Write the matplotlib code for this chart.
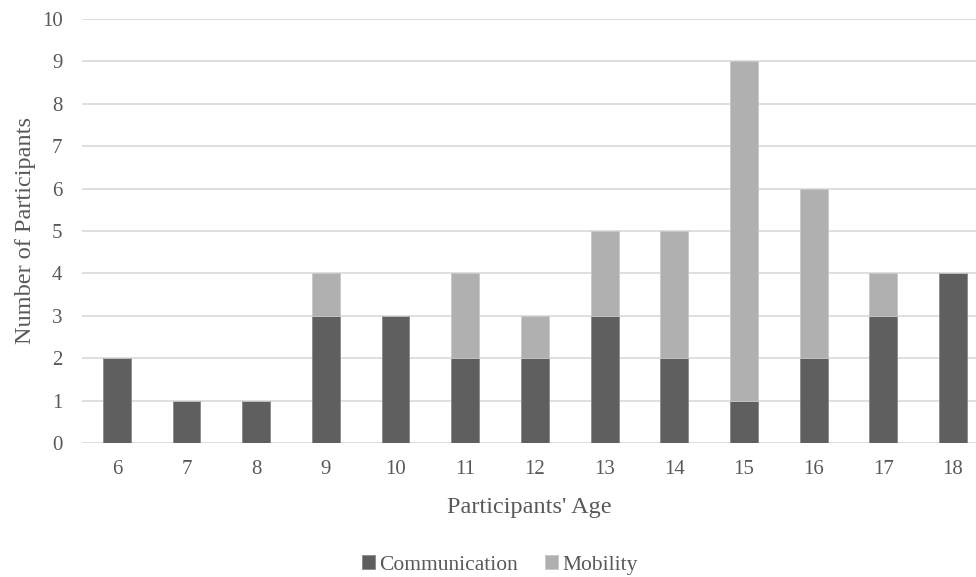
import matplotlib
matplotlib.use("Agg")
import matplotlib.pyplot as plt
import numpy as np

ages = ["6", "7", "8", "9", "10", "11", "12", "13", "14", "15", "16", "17", "18"]
communication = [2, 1, 1, 3, 3, 2, 2, 3, 2, 1, 2, 3, 4]
mobility = [0, 0, 0, 1, 0, 2, 1, 2, 3, 8, 4, 1, 0]

plt.rcParams["font.family"] = ["Liberation Serif", "DejaVu Serif"]

fig = plt.figure(figsize=(9.76, 5.77), dpi=100)
W, H = 976, 577
ax = fig.add_axes([82 / W, 1 - 443 / H, (976 - 82) / W, (443 - 19) / H])

x = np.arange(len(ages))
dark = "#5f5f5f"
light = "#b0b0b0"
comm = np.array(communication)
mob = np.array(mobility)
ax.bar(x, comm, width=0.4, color=dark, edgecolor="#8a8a8a", linewidth=0.6,
       label="Communication", zorder=3)
ax.bar(x, mob, width=0.4, bottom=comm, color=light, edgecolor="#c8c8c8",
       linewidth=0.6, label="Mobility", zorder=3)

ax.set_xlim(-0.5, 12 + (976 - 953) / 69.67)
ax.set_ylim(0, 10)
ax.set_yticks(range(0, 11))
ax.set_xticks(x)
ax.set_xticklabels(ages)
ax.yaxis.grid(True, color="#d9d9d9", linewidth=1.2, zorder=0)
ax.set_axisbelow(True)
for s in ax.spines.values():
    s.set_visible(False)
ax.tick_params(axis="both", length=0, labelsize=15, colors="#595959")
ax.tick_params(axis="y", pad=14)
ax.tick_params(axis="x", pad=12)

ax.set_xlabel("Participants' Age", fontsize=17.5, color="#595959", labelpad=13)
ax.set_ylabel("Number of Participants", fontsize=17.5, color="#595959", labelpad=4)

fig.legend(loc="center", bbox_to_anchor=(500 / W, 1 - 565 / H), ncol=2,
           frameon=False, fontsize=15.5, handlelength=0.6, handleheight=0.6,
           handletextpad=0.2, columnspacing=1.25, labelcolor="#595959")

fig.savefig("out.png", dpi=100)
